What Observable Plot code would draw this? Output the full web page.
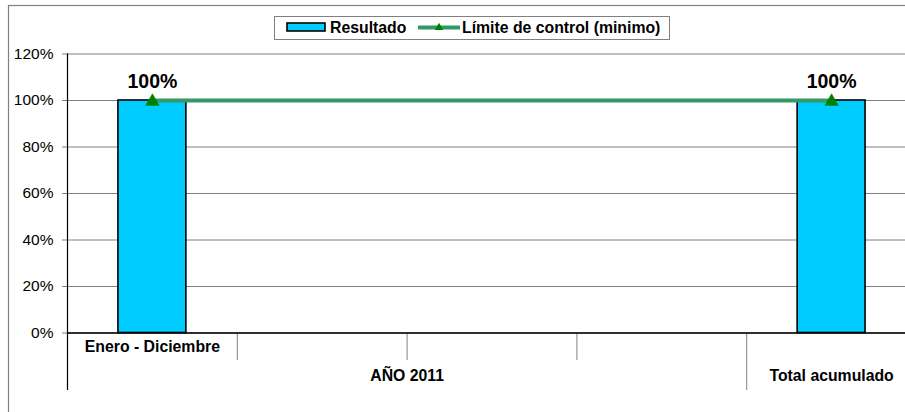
<!DOCTYPE html>
<html>
<head>
<meta charset="utf-8">
<script src="https://cdn.jsdelivr.net/npm/d3@7"></script>
<script src="https://cdn.jsdelivr.net/npm/@observablehq/plot@0.6"></script>
<style>
  html, body { margin: 0; padding: 0; overflow: hidden; background: white; }
  #chart { width: 905px; height: 412px; overflow: hidden; }
</style>
</head>
<body>
<div id="chart"></div>
<script>
// ---- data ----
const categoryLabels = ["Enero - Diciembre", "", "", "", ""];
const resultado = [1.0, null, null, null, 1.0];
const limiteControl = [1.0, null, null, null, 1.0];
const groupLabels = ["AÑO 2011", "Total acumulado"];
const groupStart = [0, 4];
const groupEnd = [3, 4];
const yTicks = [0, 0.2, 0.4, 0.6, 0.8, 1.0, 1.2];
const seriesNames = ["Resultado", "Límite de control (minimo)"];

// ---- derived tables ----
const bars = resultado.map((v, i) => ({i, v})).filter(d => d.v != null);
const limit = limiteControl.map((v, i) => ({i, v})).filter(d => d.v != null);
const cats = categoryLabels.map((label, i) => ({i, label}));
const groups = groupLabels.map((label, k) => ({label, start: groupStart[k], end: groupEnd[k]}));
const innerBounds = d3.range(1, categoryLabels.length).filter(b => !groupStart.includes(b));
const groupBounds = groupStart.filter(b => b > 0);

const FONT = "'Liberation Sans', Arial, sans-serif";
const barColor = "#00CCFF";
const lineColor = "#339966";
const markerColor = "#008000";

const chart = Plot.plot({
  width: 930,
  height: 412,
  marginLeft: 67,
  marginRight: 14,
  marginTop: 53.5,
  marginBottom: 79.5,
  style: {fontFamily: FONT, fontSize: "15.5px", color: "black", background: "white", maxWidth: "none", overflow: "visible"},
  x: {type: "linear", domain: [0, categoryLabels.length], axis: null},
  y: {domain: [0, 1.2], axis: null},
  marks: [
    Plot.gridY(yTicks, {stroke: "#808080", strokeOpacity: 1, strokeWidth: 1}),
    Plot.axisY(yTicks, {
      tickFormat: d => Math.round(d * 100) + "%",
      tickSize: 5, tickPadding: 9, stroke: "#808080", fontSize: 15.5, label: null
    }),
    Plot.rectY(bars, {x1: d => d.i + 0.3, x2: d => d.i + 0.7, y1: 0, y2: "v", fill: barColor, stroke: "black", strokeWidth: 1.6}),
    // category axis
    Plot.ruleX(innerBounds, {x: d => d, y1: 0, y2: 0, insetBottom: -27.5, stroke: "#808080", strokeWidth: 1}),
    Plot.ruleX(groupBounds, {x: d => d, y1: 0, y2: 0, insetBottom: -57.5, stroke: "#808080", strokeWidth: 1}),
    Plot.ruleX([0], {x: d => d, y1: 1.2, y2: 0, insetBottom: -57.5, stroke: "black", strokeWidth: 1.2}),
    Plot.ruleY([0], {stroke: "black", strokeWidth: 1.5}),
    Plot.text(cats, {x: d => d.i + 0.5, frameAnchor: "bottom", dy: 18.5, text: "label", fontWeight: "bold", fontSize: 15.8, fill: "black"}),
    Plot.text(groups, {x: d => (d.start + d.end + 1) / 2, frameAnchor: "bottom", dy: 47.5, text: "label", fontWeight: "bold", fontSize: 15.8, fill: "black"}),
    // limit line
    Plot.line(limit, {x: d => d.i + 0.5, y: "v", stroke: lineColor, strokeWidth: 4}),
    Plot.dot(limit, {x: d => d.i + 0.5, y: "v", symbol: "triangle", r: 5, fill: markerColor, stroke: markerColor, strokeWidth: 0.5, dy: 1}),
    // data labels
    Plot.text(bars, {x: d => d.i + 0.5, y: "v", text: d => Math.round(d.v * 100) + "%", dy: -18.5, fontWeight: "bold", fontSize: 19.5, fill: "black"})
  ]
});

document.getElementById("chart").appendChild(chart);

// chart frame and legend
const svg = d3.select(chart);
svg.insert("rect", ":first-child")
  .attr("x", 8.5).attr("y", 5.5).attr("width", 1000).attr("height", 1000)
  .attr("fill", "none").attr("stroke", "#808080").attr("stroke-width", 1.2);

const lg = svg.append("g").attr("font-family", FONT).attr("font-weight", "bold")
  .attr("font-size", 15.8).attr("text-anchor", "start").attr("fill", "black");
lg.append("rect").attr("x", 274.5).attr("y", 16.5).attr("width", 395).attr("height", 23)
  .attr("fill", "white").attr("stroke", "#808080").attr("stroke-width", 1);
lg.append("rect").attr("x", 287).attr("y", 23).attr("width", 38).attr("height", 8)
  .attr("fill", barColor).attr("stroke", "black").attr("stroke-width", 1.6);
lg.append("text").attr("x", 330).attr("y", 33).attr("text-anchor", "start").text(seriesNames[0]);
lg.append("line").attr("x1", 418).attr("x2", 460).attr("y1", 27.5).attr("y2", 27.5)
  .attr("stroke", lineColor).attr("stroke-width", 4);
lg.append("path").attr("transform", "translate(439,27.5)")
  .attr("d", d3.symbol(d3.symbolTriangle, 30)()).attr("fill", markerColor);
lg.append("text").attr("x", 462).attr("y", 33).attr("text-anchor", "start").text(seriesNames[1]);
</script>
</body>
</html>
